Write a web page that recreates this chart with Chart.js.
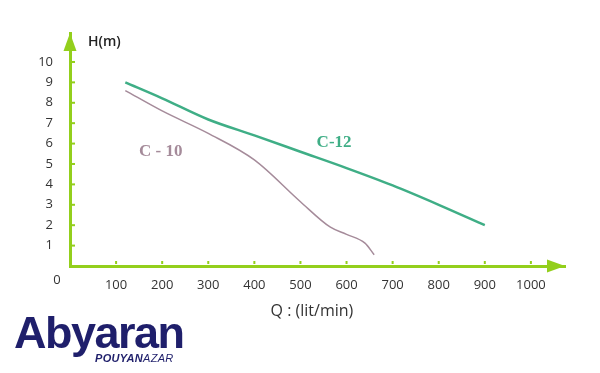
<!DOCTYPE html>
<html>
<head>
<meta charset="utf-8">
<script src="https://cdn.jsdelivr.net/npm/chart.js@4"></script>
<style>
  html, body { margin: 0; padding: 0; background: #fff; }
  #wrap { position: relative; width: 600px; height: 373px; }
  #logo { position: absolute; left: 14px; top: 308px; color: #1f1f6b; font-family: "Liberation Sans", Arial, sans-serif; }
  #logo .big { font-size: 45px; font-weight: bold; letter-spacing: -1.5px; line-height: 50px; }
  #logo .small { position: absolute; left: 81px; top: 44px; font-size: 11px; font-style: italic; letter-spacing: 0.3px; white-space: nowrap; }
</style>
</head>
<body>
<div id="wrap">
  <canvas id="chart" width="600" height="373"></canvas>
  <div id="logo"><div class="big">Abyaran</div><div class="small"><b>POUYAN</b>AZAR</div></div>
</div>
<script>
// Q (lit/min) vs H (m)
const qC12 = [120, 200, 300, 400, 500, 600, 700, 800, 900];
const hC12 = [9.0, 8.22, 7.18, 6.4, 5.6, 4.8, 3.95, 3.0, 2.0];
const qC10 = [120, 200, 300, 400, 500, 565, 600, 640, 660];
const hC10 = [8.6, 7.6, 6.5, 5.2, 3.15, 1.9, 1.55, 1.12, 0.55];

const AXIS_GREEN = '#93cf1c';
const C12_COLOR = '#3fae86';
const C10_COLOR = '#a58b9a';

function toPoints(xs, ys) {
  return xs.map(function (x, i) { return { x: x, y: ys[i] }; });
}

const decorPlugin = {
  id: 'decor',
  afterDraw: function (chart) {
    var ctx = chart.ctx;
    var xs = chart.scales.x, ys = chart.scales.y;
    var area = chart.chartArea;
    var x0 = xs.getPixelForValue(0), y0 = ys.getPixelForValue(0);
    ctx.save();
    ctx.fillStyle = AXIS_GREEN;
    // arrow heads
    ctx.beginPath();
    ctx.moveTo(x0, area.top);
    ctx.lineTo(x0 - 6.5, area.top + 18);
    ctx.lineTo(x0 + 6.5, area.top + 18);
    ctx.closePath();
    ctx.fill();
    ctx.beginPath();
    ctx.moveTo(area.right, y0);
    ctx.lineTo(area.right - 18, y0 - 6.5);
    ctx.lineTo(area.right - 18, y0 + 6.5);
    ctx.closePath();
    ctx.fill();
    // small tick marks inside the axes
    var i;
    for (i = 1; i <= 10; i++) {
      ctx.fillRect(x0 + 2, ys.getPixelForValue(i) - 1, 3, 2);
      ctx.fillRect(xs.getPixelForValue(i * 100) - 1, y0 - 5, 2, 3);
    }
    // origin label and axis titles
    ctx.fillStyle = '#333';
    ctx.font = '13px "Open Sans", sans-serif';
    ctx.textAlign = 'center';
    ctx.textBaseline = 'middle';
    ctx.fillText('0', x0 - 13, y0 + 14);
    ctx.font = '16px "Open Sans", sans-serif';
    ctx.fillText('Q : (lit/min)', xs.getPixelForValue(525), y0 + 45);
    ctx.font = '600 14px "Open Sans", sans-serif';
    ctx.textAlign = 'left';
    ctx.fillStyle = '#222';
    ctx.fillText('H(m)', x0 + 18, area.top + 9);
    // curve names
    ctx.font = 'bold 17px "Liberation Serif", serif';
    ctx.textAlign = 'center';
    ctx.fillStyle = C12_COLOR;
    ctx.fillText('C-12', xs.getPixelForValue(573), ys.getPixelForValue(6.05));
    ctx.fillStyle = C10_COLOR;
    ctx.fillText('C - 10', xs.getPixelForValue(197), ys.getPixelForValue(5.6));
    ctx.restore();
  }
};

new Chart(document.getElementById('chart'), {
  type: 'line',
  data: {
    datasets: [{
      label: 'C-12',
      data: toPoints(qC12, hC12),
      borderColor: C12_COLOR,
      borderWidth: 2.5,
      pointRadius: 0,
      cubicInterpolationMode: 'monotone',
    }, {
      label: 'C-10',
      data: toPoints(qC10, hC10),
      borderColor: C10_COLOR,
      borderWidth: 1.5,
      pointRadius: 0,
      cubicInterpolationMode: 'monotone',
    }],
  },
  options: {
    responsive: false,
    animation: false,
    layout: { padding: { top: 33, right: 35, left: 0, bottom: 0 } },
    plugins: { legend: { display: false }, tooltip: { enabled: false } },
    scales: {
      x: {
        type: 'linear',
        min: 0, max: 1074,
        afterFit: function (s) { s.height = 107; },
        afterBuildTicks: function (s) {
          s.ticks = [];
          for (var v = 100; v <= 1000; v += 100) s.ticks.push({ value: v });
        },
        grid: { display: false, drawTicks: false },
        border: { color: AXIS_GREEN, width: 3 },
        ticks: {
          padding: 11, color: '#333', font: { family: 'Open Sans', size: 13 }, maxRotation: 0, autoSkip: false,
          callback: function (v) { return String(v); },
        },
      },
      y: {
        min: 0, max: 11.42,
        afterFit: function (s) { s.width = 70; },
        afterBuildTicks: function (s) {
          s.ticks = [];
          for (var v = 1; v <= 10; v++) s.ticks.push({ value: v });
        },
        grid: { display: false, drawTicks: false },
        border: { color: AXIS_GREEN, width: 3 },
        ticks: { padding: 17, color: '#333', font: { family: 'Open Sans', size: 13 }, autoSkip: false },
      },
    },
  },
  plugins: [decorPlugin],
});
</script>
</body>
</html>
